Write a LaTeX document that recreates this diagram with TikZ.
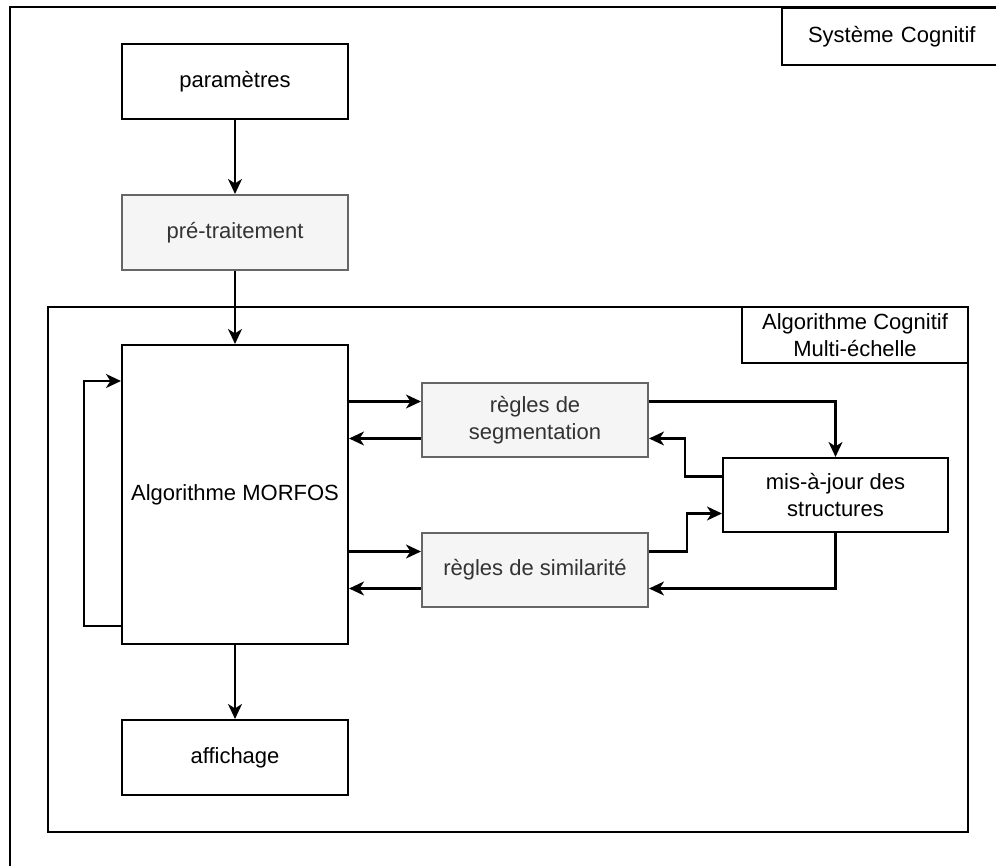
\documentclass[tikz,border=0pt]{standalone}
\usepackage{fontspec}
\setmainfont{Liberation Sans}
\usepackage{tikz}
\usetikzlibrary{arrows.meta,positioning,calc}
\definecolor{dgray}{HTML}{666666}
\definecolor{dtext}{HTML}{333333}
\definecolor{dfill}{HTML}{F5F5F5}
\tikzset{
  box/.style={draw=black,fill=white,line width=2.1pt,align=center,font=\fontsize{22}{27}\selectfont,inner sep=4pt,minimum width=226pt,minimum height=75pt},
  greybox/.style={box,draw=dgray,fill=dfill,text=dtext},
  tag/.style={draw=black,fill=white,line width=2.1pt,align=center,font=\fontsize{22}{27}\selectfont,inner sep=4pt},
  arr/.style={-{Stealth[length=15pt,width=14pt,inset=4.5pt]},line width=2.1pt,draw=black},
}
\begin{document}
\begin{tikzpicture}[x=1pt,y=-1pt]
  \clip (0,0) rectangle (996,866);
  % cadre global
  \draw[line width=2.1pt] (10,7) rectangle (1020,890);
  \node[tag,anchor=north west,minimum height=57pt,text width=178pt,inner xsep=26pt,align=left] (sys) at (781,7) {Système Cognitif};
  % bloc multi-echelle
  \node[draw=black,line width=2.1pt,minimum width=920pt,minimum height=525pt] (multi) at (508,569.5) {};
  \node[tag,minimum width=226pt,minimum height=56pt] (multitag) at (855,335) {Algorithme Cognitif\\Multi-échelle};
  % chaine principale
  \node[box] (param) at (235,81.5) {paramètres};
  \node[greybox] (pretr) at (235,232.5) {pré-traitement};
  \node[box,minimum height=299pt] (morfos) at (235,494.5) {Algorithme MORFOS};
  \node[box] (affich) at (235,757.5) {affichage};
  % regles
  \node[greybox,minimum height=74pt] (seg) at (535,420) {règles de\\segmentation};
  \node[greybox,minimum height=74pt] (sim) at (535,570) {règles de similarité};
  \node[box,minimum width=225pt,minimum height=74pt] (maj) at (835.5,495) {mis-à-jour des\\structures};
  \coordinate (segin) at ([yshift=18.5pt]seg.west);
  \coordinate (segout) at ([yshift=-18.5pt]seg.west);
  \coordinate (simin) at ([yshift=18.5pt]sim.west);
  \coordinate (simout) at ([yshift=-18.5pt]sim.west);
  \draw[arr] (param) -- (pretr);
  \draw[arr] (pretr) -- (morfos);
  \draw[arr] (morfos) -- (affich);
  \draw[arr] ([yshift=-131.5pt]morfos.west) -- ++(-37,0) |- ([yshift=113.5pt]morfos.west);
  \draw[arr] (segin -| morfos.east) -- (segin);
  \draw[arr] (segout) -- (segout -| morfos.east);
  \draw[arr] (simin -| morfos.east) -- (simin);
  \draw[arr] (simout) -- (simout -| morfos.east);
  \draw[arr] ([yshift=18.5pt]seg.east) -| (maj.north);
  \draw[arr] ([yshift=18.5pt]maj.west) -- ++(-37,0) |- ([yshift=-18.5pt]seg.east);
  \draw[arr] ([yshift=18.5pt]sim.east) -- ++(38,0) |- ([yshift=-18.5pt]maj.west);
  \draw[arr] (maj.south) |- ([yshift=-18.5pt]sim.east);
\end{tikzpicture}
\end{document}
